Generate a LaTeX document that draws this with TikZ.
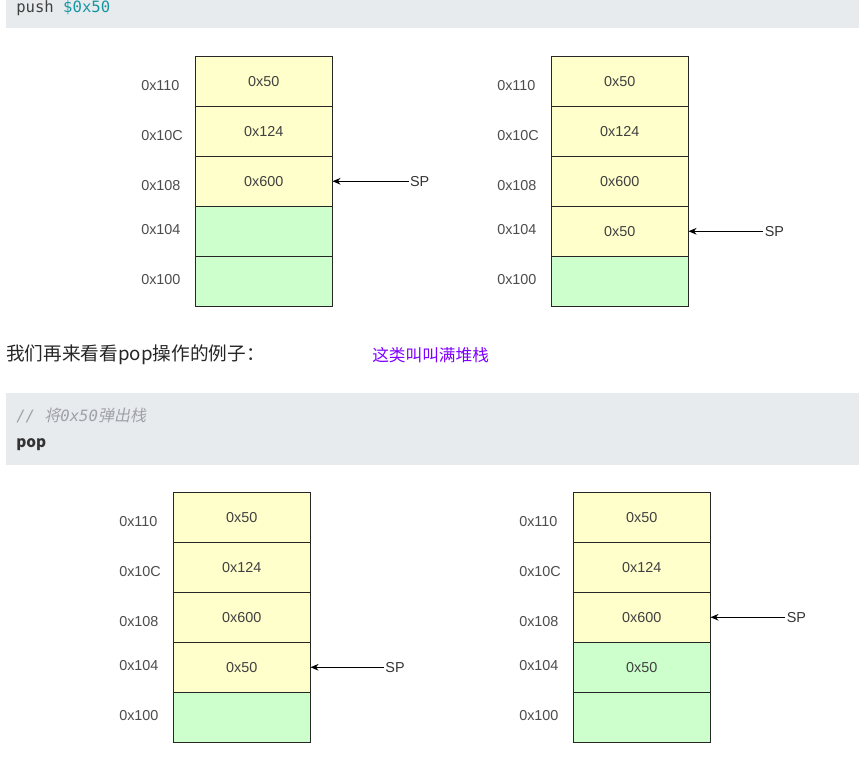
\documentclass[tikz,border=0pt]{standalone}
\usepackage{fontspec}
\setmainfont{Liberation Sans}
\setmonofont{DejaVu Sans Mono}
\newfontfamily\cjk{Noto Sans CJK SC}
\newfontfamily\cjkslant[FakeSlant=0.2]{Noto Sans CJK SC}
\usepackage{tikz}
\usetikzlibrary{arrows.meta,positioning}

\definecolor{codebg}{RGB}{232,235,238}
\definecolor{codeteal}{RGB}{24,150,162}
\definecolor{codegray}{RGB}{160,161,167}
\definecolor{notepurple}{RGB}{128,0,255}
\definecolor{cellyellow}{RGB}{255,255,204}
\definecolor{cellgreen}{RGB}{204,255,204}

\tikzset{
  cell/.style={draw=black!85, minimum width=102.75pt, minimum height=37.5pt,
    anchor=north west, inner sep=0pt, text=black!75,
    font=\fontsize{10.8}{12}\selectfont},
  used/.style={cell, fill=cellyellow},
  free/.style={cell, fill=cellgreen},
  addr/.style={anchor=west, inner sep=0pt, text=black!70,
    font=\fontsize{10.8}{12}\selectfont},
  splabel/.style={anchor=west, inner sep=1pt, text=black!80,
    font=\fontsize{10.8}{12}\selectfont},
  sparrow/.style={-{Stealth[length=6pt,width=5pt]}, black, semithick},
}

\begin{document}
\begin{tikzpicture}[x=0.75pt, y=-0.75pt]
\useasboundingbox (0,0) rectangle (859,761);

    % Code bar: push
    \fill[codebg] (6,-2) rectangle (859,28);
    \node[anchor=base west, inner sep=0pt, text=black!75,
      font=\ttfamily\fontsize{11.7}{14}\selectfont] (pushcode) at (16,12)
      {push \textcolor{codeteal}{\$0x50}};

    % Stack before push (top left)
    \foreach \val/\sty [count=\i] in {0x50/used,0x124/used,0x600/used,/free,/free}
        \node[\sty] (a\i) at (195,{56+50*(\i-1)}) {\val};
    \foreach \adr/\dy [count=\i] in {0x110/5,0x10C/5,0x108/5,0x104/-1,0x100/-1}
        \node[addr] (la\i) at (141,{81+50*(\i-1)+\dy}) {\adr};
    \node[splabel] (spa) at ([xshift=57pt]a3.east) {SP};
    \draw[sparrow] (spa.west) -- (a3.east);

    % Stack after push (top right)
    \foreach \val/\sty [count=\i] in {0x50/used,0x124/used,0x600/used,0x50/used,/free}
        \node[\sty] (b\i) at (551,{56+50*(\i-1)}) {\val};
    \foreach \adr/\dy [count=\i] in {0x110/5,0x10C/5,0x108/5,0x104/-1,0x100/-1}
        \node[addr] (lb\i) at (497,{81+50*(\i-1)+\dy}) {\adr};
    \node[splabel] (spb) at ([xshift=56pt]b4.east) {SP};
    \draw[sparrow] (spb.west) -- (b4.east);

    % Text between the two examples
    \node[anchor=base west, inner sep=0pt, text=black!85,
      font=\cjk\fontsize{14}{16}\selectfont] (intro) at (6,360)
      {我们再来看看pop操作的例子：};
    \node[anchor=base west, inner sep=0pt, text=notepurple,
      font=\cjk\fontsize{12.5}{14}\selectfont] (note) at (372,361)
      {这类叫叫满堆栈};

    % Code bar: pop
    \fill[codebg] (6,393) rectangle (859,465);
    \node[anchor=base west, inner sep=0pt, text=codegray,
      font=\ttfamily\itshape\fontsize{11.7}{14}\selectfont] (popcomment) at (16,421)
      {// {\cjkslant\fontsize{12}{14}\selectfont 将}0x50{\cjkslant\fontsize{12}{14}\selectfont 弹出栈}};
    \node[anchor=base west, inner sep=0pt, text=black!80,
      font=\cjk\bfseries\fontsize{11.5}{14}\selectfont] (popcode) at (16,447) {pop};

    % Stack before pop (bottom left)
    \foreach \val/\sty [count=\i] in {0x50/used,0x124/used,0x600/used,0x50/used,/free}
        \node[\sty] (c\i) at (173,{492+50*(\i-1)}) {\val};
    \foreach \adr/\dy [count=\i] in {0x110/5,0x10C/5,0x108/5,0x104/-1,0x100/-1}
        \node[addr] (lc\i) at (119,{517+50*(\i-1)+\dy}) {\adr};
    \node[splabel] (spc) at ([xshift=55pt]c4.east) {SP};
    \draw[sparrow] (spc.west) -- (c4.east);

    % Stack after pop (bottom right)
    \foreach \val/\sty [count=\i] in {0x50/used,0x124/used,0x600/used,0x50/free,/free}
        \node[\sty] (d\i) at (573,{492+50*(\i-1)}) {\val};
    \foreach \adr/\dy [count=\i] in {0x110/5,0x10C/5,0x108/5,0x104/-1,0x100/-1}
        \node[addr] (ld\i) at (519,{517+50*(\i-1)+\dy}) {\adr};
    \node[splabel] (spd) at ([xshift=56pt]d3.east) {SP};
    \draw[sparrow] (spd.west) -- (d3.east);

\end{tikzpicture}
\end{document}
